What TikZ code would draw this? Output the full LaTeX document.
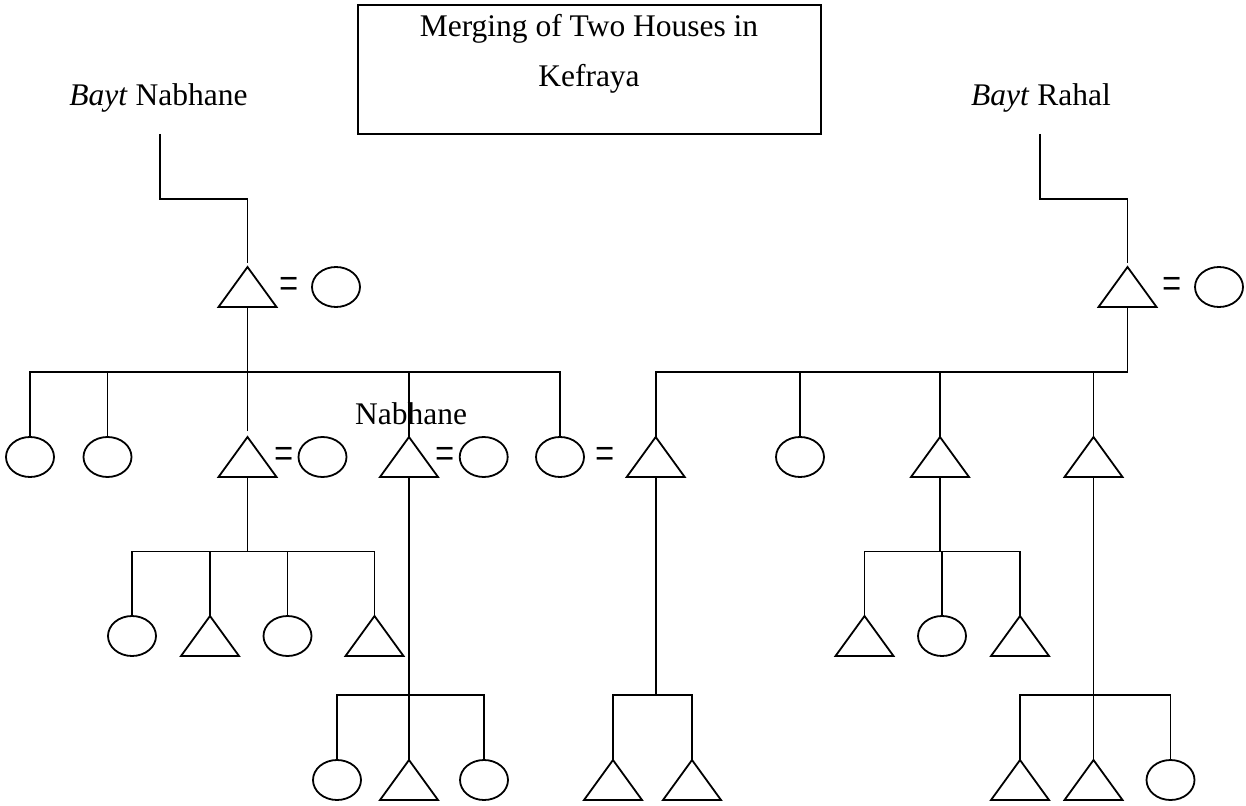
\documentclass[tikz,border=0pt]{standalone}
\usepackage{fontspec}
\setmainfont{Liberation Serif}
\usetikzlibrary{shapes.geometric}
\begin{document}
\begin{tikzpicture}[x=1pt,y=-1pt,
  every path/.style={line width=1.8pt},
  lbl/.style={font=\fontsize{31.5}{38}\selectfont, inner sep=0pt, anchor=base},
  eqs/.style={font=\fontsize{31.5}{38}\selectfont, inner sep=0pt, anchor=base, yshift=-13pt},
  fem/.style={ellipse, draw, line width=1.8pt, minimum width=48pt, minimum height=40pt, inner sep=0pt},
  mal/.style={minimum width=58pt, minimum height=40pt, inner sep=0pt, outer sep=0pt,
    append after command={\pgfextra{\draw[line width=1.8pt, line join=miter]
      (\tikzlastnode.south west) -- (\tikzlastnode.north) -- (\tikzlastnode.south east) -- cycle;}}},
  titlebox/.style={draw, line width=1.8pt, minimum width=463pt, minimum height=129pt, inner sep=0pt}
]
\useasboundingbox (0,0) rectangle (1246,805);

% title
\node[titlebox] (title) at (589.5,69.5) {};
\node[lbl] (title1) at (589,36.7) {Merging of Two Houses in};
\node[lbl] (title2) at (589,87) {Kefraya};

% house labels
\node[lbl] (bn) at (158.5,106) {\textit{Bayt} Nabhane};
\node[lbl] (br) at (1041,106) {\textit{Bayt} Rahal};
\node[lbl] (nab) at (411,424) {Nabhane};

\newcommand{\marr}{\scalebox{1.08}[1.6]{=}}

% row 1
\node[mal] (tN) at (247.5,287) {};
\node[eqs] (eqN) at (289.5,287) {\marr};
\node[fem] (wN) at (336,287) {};
\node[mal] (tR) at (1127.5,287) {};
\node[eqs] (eqR) at (1172,287) {\marr};
\node[fem] (wR) at (1219,287) {};

% row 2
\node[fem] (c1) at (30,457) {};
\node[fem] (c2) at (107.5,457) {};
\node[mal] (t3) at (247.5,457) {};
\node[eqs] (eq3) at (284,457) {\marr};
\node[fem] (w3) at (322.5,457) {};
\node[mal] (t4) at (409,457) {};
\node[eqs] (eq4) at (445.5,457) {\marr};
\node[fem] (w4) at (483.7,457) {};
\node[fem] (c5) at (560,457) {};
\node[eqs] (eq5) at (605.5,457) {\marr};
\node[mal] (t5) at (655.7,457) {};
\node[fem] (r2) at (800,457) {};
\node[mal] (r3) at (940,457) {};
\node[mal] (r4) at (1093.5,457) {};

% row 3
\node[fem] (g1) at (132,636) {};
\node[mal] (g2) at (210,636) {};
\node[fem] (g3) at (287.5,636) {};
\node[mal] (g4) at (374.5,636) {};
\node[mal] (h1) at (864.5,636) {};
\node[fem] (h2) at (942,636) {};
\node[mal] (h3) at (1020,636) {};

% row 4
\node[fem] (k1) at (337,780) {};
\node[mal] (k2) at (409,780) {};
\node[fem] (k3) at (484,780) {};
\node[mal] (m1) at (613,780) {};
\node[mal] (m2) at (692,780) {};
\node[mal] (q1) at (1020,780) {};
\node[mal] (q2) at (1093.5,780) {};
\node[fem] (q3) at (1170.5,780) {};

% level coordinates
\coordinate (yA) at (0,199);
\coordinate (yB) at (0,372);
\coordinate (yC) at (0,551.5);
\coordinate (yD) at (0,695);

% descent lines from house labels
\coordinate (nTop) at (160,134);
\coordinate (rTop) at (1040,134);
\draw[shorten >=4pt] (nTop) -- (nTop |- yA) -| (tN.north);
\draw[shorten >=4pt] (rTop) -- (rTop |- yA) -| (tR.north);

% Nabhane sibling set
\draw (tN.south) -- (tN.south |- yB);
\draw (c1.north) -- (c1.north |- yB) -- (c5.north |- yB) -- (c5.north);
\draw[shorten <=6pt] (t3.north) -- (t3.north |- yB);
\foreach \n in {c2,t4} \draw (\n.north) -- (\n.north |- yB);

% Rahal sibling set
\draw (tR.south) -- (tR.south |- yB);
\draw (t5.north) -- (t5.north |- yB) -- (tR.south |- yB);
\foreach \n in {r2,r3,r4} \draw (\n.north) -- (\n.north |- yB);

% children of t3
\draw (t3.south) -- (t3.south |- yC);
\draw (g1.north) -- (g1.north |- yC) -- (g4.north |- yC) -- (g4.north);
\foreach \n in {g2,g3} \draw (\n.north) -- (\n.north |- yC);

% children of r3
\draw (r3.south) -- (r3.south |- yC);
\draw (h1.north) -- (h1.north |- yC) -- (h3.north |- yC) -- (h3.north);
\draw (h2.north) -- (h2.north |- yC);

% children of t4
\draw (t4.south) -- (t4.south |- yD);
\draw (k1.north) -- (k1.north |- yD) -- (k3.north |- yD) -- (k3.north);
\draw (k2.north) -- (k2.north |- yD);

% children of t5
\draw (t5.south) -- (t5.south |- yD);
\draw (m1.north) -- (m1.north |- yD) -- (m2.north |- yD) -- (m2.north);

% children of r4
\draw (r4.south) -- (r4.south |- yD);
\draw (q1.north) -- (q1.north |- yD) -- (q3.north |- yD) -- (q3.north);
\draw (q2.north) -- (q2.north |- yD);
\end{tikzpicture}
\end{document}
